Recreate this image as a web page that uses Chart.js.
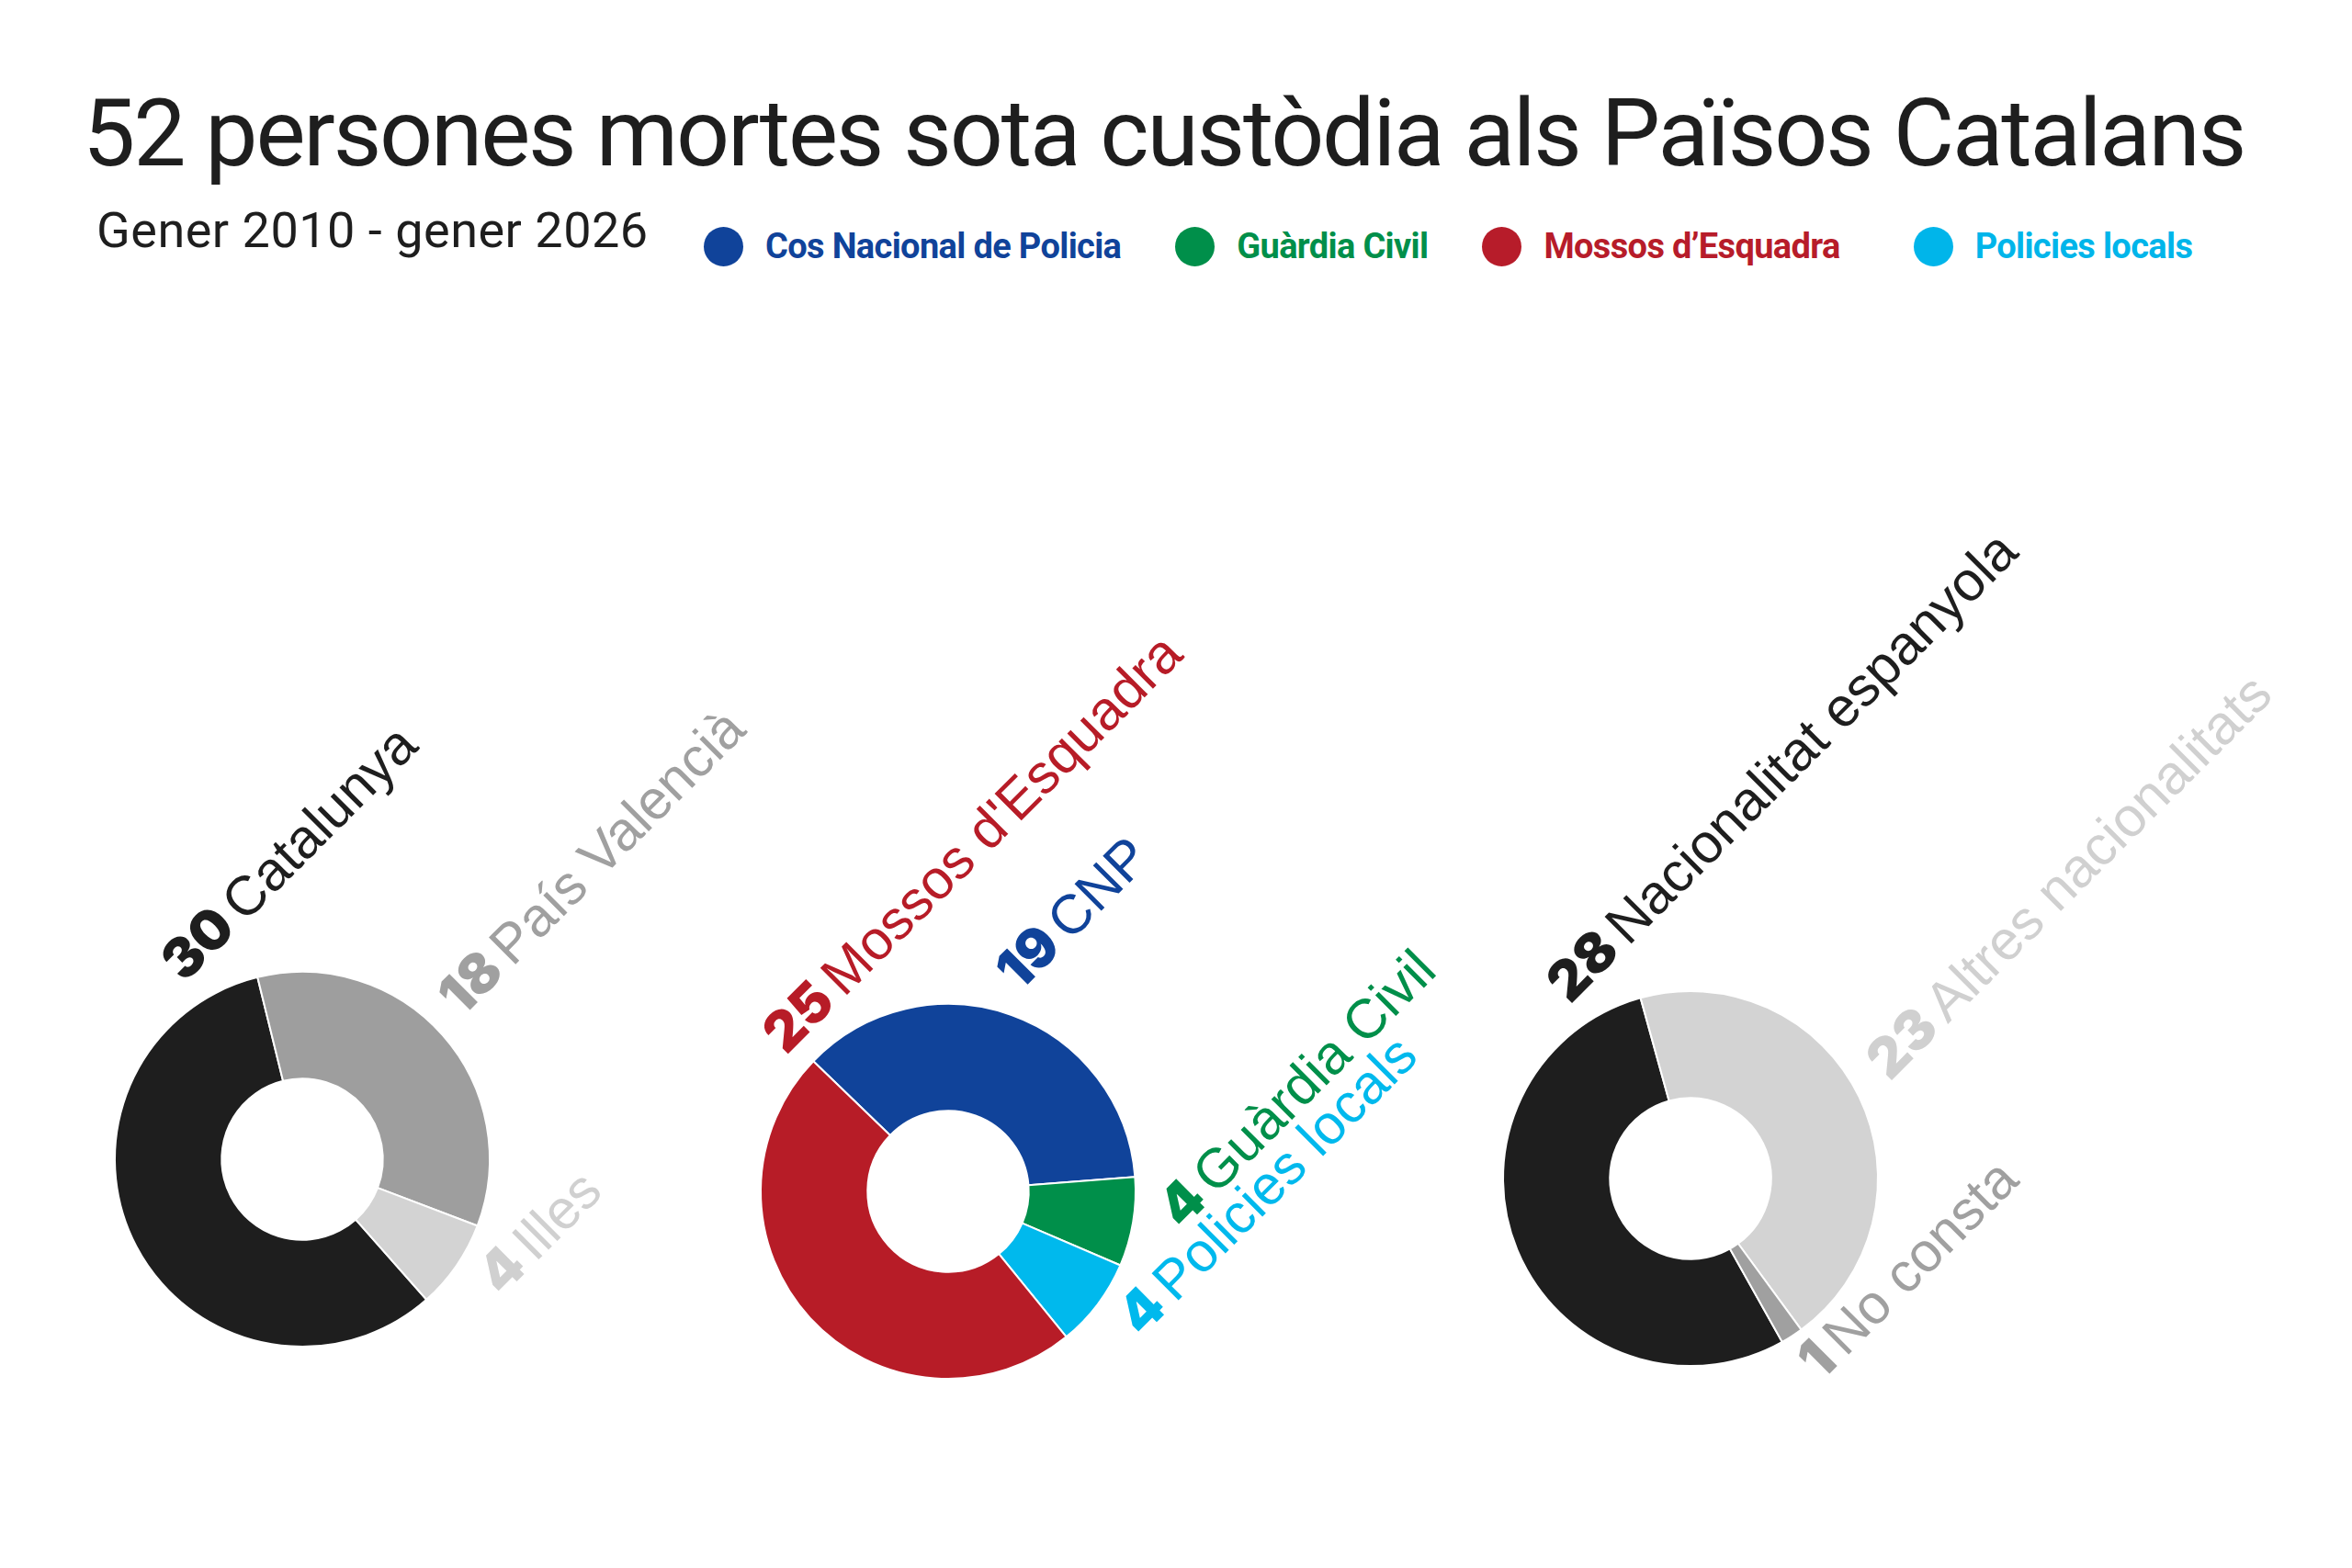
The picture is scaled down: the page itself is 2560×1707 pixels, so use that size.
<!DOCTYPE html>
<html>
<head>
<meta charset="utf-8">
<script src="https://cdn.jsdelivr.net/npm/chart.js"></script>
<style>
  html, body { margin: 0; padding: 0; background: #fff; width: 2560px; height: 1707px; overflow: hidden; }
  #title { position: absolute; left: 90px; top: 94px; font: 400 102px Roboto; line-height: 1; color: #1e1e1e; letter-spacing: -2.2px; white-space: nowrap; }
  #subtitle { position: absolute; left: 105px; top: 224px; font: 400 54px Roboto; line-height: 1; color: #1e1e1e; letter-spacing: 0.5px; white-space: nowrap; }
  #legend { position: absolute; left: 766px; top: 246px; display: flex; align-items: center; }
  .item { display: flex; align-items: center; margin-right: 59px; font: 700 38px Roboto; letter-spacing: -0.65px; white-space: nowrap; }
  .item:nth-child(3) { margin-right: 80px; }
  .dot { width: 43px; height: 43px; border-radius: 50%; margin-right: 24px; }
  canvas { position: absolute; left: 0; top: 0; }
</style>
</head>
<body>
<div id="title">52 persones mortes sota custòdia als Països Catalans</div>
<div id="subtitle">Gener 2010 - gener 2026</div>
<div id="legend"></div>
<canvas id="c1" width="2560" height="1707"></canvas>
<canvas id="c2" width="2560" height="1707"></canvas>
<canvas id="c3" width="2560" height="1707"></canvas>
<script>
// data
const regions = ['Catalunya', 'País Valencià', 'Illes'];
const regionValues = [30, 18, 4];
const regionColors = ['#1e1e1e', '#9e9e9e', '#d3d3d3'];
const regionText = ['#1e1e1e', '#a0a0a0', '#d0d0d0'];

const forces = ['CNP', 'Guàrdia Civil', 'Policies locals', "Mossos d'Esquadra"];
const forceValues = [19, 4, 4, 25];
const forceColors = ['#10439a', '#008f4a', '#00b9ed', '#b71c27'];

const origins = ['Nacionalitat espanyola', 'Altres nacionalitats', 'No consta'];
const originValues = [28, 23, 1];
const originColors = ['#1e1e1e', '#d3d3d3', '#a0a0a0'];
const originText = ['#1e1e1e', '#d0d0d0', '#a0a0a0'];

const legendNames = ['Cos Nacional de Policia', 'Guàrdia Civil', 'Mossos d’Esquadra', 'Policies locals'];
const legendColors = ['#10439a', '#008f4a', '#b71c2a', '#00b5ea'];

const legend = document.getElementById('legend');
legendNames.forEach((name, i) => {
  const el = document.createElement('div');
  el.className = 'item';
  el.style.color = legendColors[i];
  el.innerHTML = '<span class="dot" style="background:' + legendColors[i] + '"></span>' + name;
  legend.appendChild(el);
});

// labels outside the ring, rotated 45 degrees
const sliceLabels = {
  id: 'sliceLabels',
  afterDatasetsDraw(chart, args, opts) {
    const ctx = chart.ctx;
    const meta = chart.getDatasetMeta(0);
    const values = chart.data.datasets[0].data;
    const names = chart.data.labels;
    const theta = -Math.PI / 4;
    const deg = Math.PI / 180;
    const upX = Math.sin(theta), upY = -Math.cos(theta);
    const slot = -130 * deg;
    meta.data.forEach((arc, i) => {
      const p = arc.getProps(['x', 'y', 'startAngle', 'endAngle', 'outerRadius'], true);
      let a = (p.startAngle + p.endAngle) / 2;
      // big slice on the left: put its label between its end and the upper-left slot
      if (Math.cos(a) < 0) {
        let e = p.endAngle - 14 * deg;
        while (e > slot + Math.PI) e -= 2 * Math.PI;
        while (e < slot - Math.PI) e += 2 * Math.PI;
        a = (e + slot) / 2;
      }
      const dx = Math.cos(a), dy = Math.sin(a);
      const dot = upX * dx + upY * dy;
      const dist = p.outerRadius + 26 + 34 * Math.max(0, -dot);
      ctx.save();
      ctx.translate(p.x + dx * dist, p.y + dy * dist);
      ctx.rotate(theta);
      ctx.fillStyle = opts.colors[i];
      ctx.textBaseline = 'alphabetic';
      ctx.textAlign = 'left';
      ctx.font = '900 60px Inter, "Liberation Sans", sans-serif';
      const num = String(values[i]);
      ctx.fillText(num, 0, 0);
      const w = ctx.measureText(num).width;
      ctx.font = '400 60px "Liberation Sans", Arial, sans-serif';
      ctx.fillText(names[i], w + 10, 0);
      ctx.restore();
    });
  }
};

function donut(id, labels, values, colors, textColors, rotation, cx, cy) {
  const W = 2560, H = 1707, half = 250;
  new Chart(document.getElementById(id), {
    type: 'doughnut',
    data: {
      labels: labels,
      datasets: [{
        data: values,
        backgroundColor: colors,
        borderColor: '#ffffff',
        borderWidth: 2
      }]
    },
    options: {
      responsive: false,
      devicePixelRatio: 1,
      animation: false,
      events: [],
      rotation: rotation,
      cutout: '43%',
      radius: 204,
      layout: { padding: { left: cx - half, right: W - cx - half, top: cy - half, bottom: H - cy - half } },
      plugins: {
        legend: { display: false },
        tooltip: { enabled: false },
        sliceLabels: { colors: textColors }
      }
    },
    plugins: [sliceLabels]
  });
}

donut('c1', regions, regionValues, regionColors, regionText, 138.5, 329, 1262);
donut('c2', forces, forceValues, forceColors, forceColors, -46, 1032, 1297);
donut('c3', origins, originValues, originColors, originText, 150.7, 1840, 1283);
</script>
</body>
</html>
